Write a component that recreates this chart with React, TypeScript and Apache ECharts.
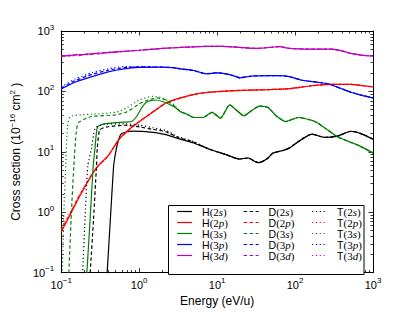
import React, { useEffect, useRef } from 'react';
import * as echarts from 'echarts';

type P = [number, number];

// ---- data (energy eV/u, cross section 1e-16 cm^2) ----
const H2s: P[] = [[0.37,0.04],[0.388,0.1],[0.427,0.77],[0.47,5.8],[0.5,10],[0.53,14],[0.58,19.5],[0.7,21.5],[0.85,22],[1.1,21.8],[1.5,21],[2.2,19.3],[3.1,16.7],[5,14],[8,11],[13,9],[19,7.6],[25,7.9],[30,7.0],[34,6.6],[39,7.0],[45,7.9],[52,9.5],[70,10.5],[84,11.5],[100,13.5],[130,17],[164,19.6],[240,17.3],[350,18.2],[520,21.9],[700,20],[1000,16.2]];
const D2sLow: P[] = [[0.225,0.04],[0.235,0.1],[0.26,0.8],[0.283,5.8],[0.29,11.5],[0.31,22.8],[0.35,25],[0.4,26],[0.64,27.5],[1.03,25.7],[1.5,23.5],[2.2,21.5],[3.1,17.5],[5,14.5]];
const T2sLow: P[] = [[0.18,0.04],[0.188,0.1],[0.2,0.6],[0.219,5.8],[0.245,11.5],[0.27,24],[0.32,28],[0.36,29],[0.64,29],[1.03,27.5],[1.5,25],[2.2,22.5],[3.1,18],[5,14.7]];

const H2p: P[] = [[0.1,0.473],[0.137,1.03],[0.168,1.73],[0.243,4.04],[0.297,5.85],[0.396,8.47],[0.56,16.5],[0.81,25.7],[1.15,35.8],[1.66,50],[2.22,64.7],[3.41,78],[5.25,90],[8.07,97],[16.6,103],[45,107],[84,111],[164,124],[290,131],[520,131],[750,124],[1000,119]];
const D2pLow: P[] = [[0.1,0.5],[0.137,1.08],[0.168,1.8]];
const T2pLow: P[] = [[0.1,0.53],[0.137,1.12],[0.168,1.85]];

const H3s: P[] = [[0.2,0.04],[0.213,0.1],[0.235,0.8],[0.257,5.8],[0.271,11.5],[0.292,25.7],[0.36,29],[0.5,30.5],[0.64,31],[0.81,32],[0.94,39.5],[1.08,54],[1.25,67],[1.6,72],[2.0,68],[2.8,56],[3.4,46],[4.1,42],[5,37],[6.6,37],[8.6,45],[11,36],[14.5,60],[18,48],[22,39.5],[27,47],[35,57],[45,54],[57,39.5],[76,31.7],[110,37],[180,31.7],[250,24],[350,17.7],[630,13],[1000,9.6]];
const D3sLow: P[] = [[0.118,0.04],[0.125,0.1],[0.135,1],[0.145,5.8],[0.155,20],[0.165,30],[0.2,35],[0.25,38.5],[0.5,41],[0.7,46],[1.0,62],[1.3,72],[1.7,78],[2.2,72],[2.8,58]];
const T3sLow: P[] = [[0.098,0.04],[0.103,0.1],[0.108,1],[0.114,6],[0.12,25],[0.13,38],[0.18,41],[0.25,42],[0.5,45],[0.7,54],[1.0,72],[1.5,83],[2.0,78],[2.8,60]];

const H3p: P[] = [[0.1,110],[0.15,142],[0.25,176],[0.4,210],[0.64,236],[1.0,250],[1.9,252],[2.7,248],[3.4,236],[5,222],[7.2,196],[10.2,203],[13,195],[16.6,180],[19.5,168],[24,175],[29,180],[47,183],[65,182],[84,176],[123,153],[190,142],[267,133],[380,113],[520,97],[700,87],[1000,78]];
const D3pLow: P[] = [[0.1,113],[0.15,150],[0.25,192],[0.4,224],[0.64,248],[1.0,255]];
const T3pLow: P[] = [[0.1,118],[0.15,160],[0.25,205],[0.4,236],[0.64,258],[1.0,258]];

const H3d: P[] = [[0.1,385],[0.2,410],[0.4,440],[1,480],[2,515],[4,540],[7,556],[12,555],[18,540],[32,515],[50,538],[63,553],[84,515],[164,500],[290,502],[400,470],[520,425],[700,400],[1000,386]];
const D3dLow: P[] = [[0.1,378],[0.115,395],[0.13,385],[0.15,405],[0.17,392],[0.2,415],[0.23,402],[0.27,428],[0.31,415],[0.36,440],[0.45,445],[0.7,462]];
const T3dLow: P[] = [[0.1,392],[0.11,380],[0.125,402],[0.14,388],[0.16,412],[0.185,398],[0.21,422],[0.25,408],[0.29,432],[0.33,420],[0.4,445],[0.7,465]];

const join = (low: P[], full: P[], from: number): P[] => [...low, ...full.filter((p) => p[0] >= from)];

const states = ['2s', '2p', '3s', '3p', '3d'];
const colors = ['#000000', '#ff0000', '#008000', '#0000ff', '#bf00bf'];
const isotopes = ['H', 'D', 'T'];
const dashes: any[] = ['solid', [3.5, 2.5], [1.2, 2.6]];

const seriesData: Record<string, P[]> = {
  'H(2s)': H2s, 'D(2s)': join(D2sLow, H2s, 8), 'T(2s)': join(T2sLow, H2s, 8),
  'H(2p)': H2p, 'D(2p)': join(D2pLow, H2p, 0.243), 'T(2p)': join(T2pLow, H2p, 0.243),
  'H(3s)': H3s, 'D(3s)': join(D3sLow, H3s, 3.4), 'T(3s)': join(T3sLow, H3s, 3.4),
  'H(3p)': H3p, 'D(3p)': join(D3pLow, H3p, 1.9), 'T(3p)': join(T3pLow, H3p, 1.9),
  'H(3d)': H3d, 'D(3d)': join(D3dLow, H3d, 1), 'T(3d)': join(T3dLow, H3d, 1),
};

const axisMin = 0.1;
const axisMax = 1000;
const minorTicks: number[] = [];
for (const dec of [0.1, 1, 10, 100]) for (let k = 2; k <= 9; k++) minorTicks.push(+(dec * k).toPrecision(3));

const SANS = 'Liberation Sans';
const SERIF = 'Liberation Serif';

const expLabel = (v: number) => {
  const e = Math.round(Math.log10(v));
  return `{b|10}{s|${e < 0 ? '\u2212' + -e : e}}`;
};

const tickRich = {
  b: { fontFamily: SANS, fontSize: 11, color: '#000', lineHeight: 16 },
  s: { fontFamily: SANS, fontSize: 8, color: '#000', verticalAlign: 'top' as const, lineHeight: 10 },
};

function makeAxes(kind: 'x' | 'y') {
  const positions = kind === 'x' ? ['bottom', 'top'] : ['left', 'right'];
  const axes: any[] = [];
  positions.forEach((pos, i) => {
    axes.push({
      type: 'log', logBase: 10, min: axisMin, max: axisMax, position: pos,
      axisLine: { show: true, onZero: false, lineStyle: { color: '#000', width: 1 } },
      axisTick: { show: true, inside: true, length: 4.5, lineStyle: { color: '#000', width: 0.8 } },
      axisLabel: i === 0 ? { show: true, color: '#000', formatter: expLabel, rich: tickRich, margin: kind === 'x' ? 4 : 7, showMinLabel: true, showMaxLabel: true } : { show: false },
      splitLine: { show: false },
      minorTick: { show: false },
      ...(i === 0 && kind === 'x' ? { name: 'Energy (eV/u)', nameLocation: 'middle', nameGap: 20, nameTextStyle: { fontFamily: SANS, fontSize: 12, color: '#000' } } : {}),
      ...(i === 0 && kind === 'y' ? {
        name: '{b|Cross section (10}{s|\u221216}{b| cm}{s|2}{b| )}', nameLocation: 'middle', nameGap: 28, nameRotate: 90,
        nameTextStyle: { color: '#000', rich: { b: { fontFamily: SANS, fontSize: 12, color: '#000', lineHeight: 16 }, s: { fontFamily: SANS, fontSize: 8, color: '#000', verticalAlign: 'top', lineHeight: 10 } } },
      } : {}),
    });
    axes.push({
      type: 'log', logBase: 10, min: axisMin, max: axisMax, position: pos,
      axisLine: { show: false, onZero: false },
      axisTick: { show: true, inside: true, length: 2.5, customValues: minorTicks, lineStyle: { color: '#000', width: 0.8 } },
      axisLabel: { show: false },
      splitLine: { show: false },
    });
  });
  return axes;
}

const legendRich = {
  a: { fontFamily: SANS, fontSize: 10.5, color: '#000', lineHeight: 13 },
  b: { fontFamily: SERIF, fontSize: 11, color: '#000', lineHeight: 13 },
  c: { fontFamily: SERIF, fontSize: 11, fontStyle: 'italic' as const, color: '#000', lineHeight: 13 },
};

export default function App() {
  const ref = useRef<HTMLDivElement>(null);
  useEffect(() => {
    if (!ref.current) return;
    const chart = echarts.init(ref.current, undefined, { renderer: 'svg' });
    const series: any[] = [];
    isotopes.forEach((iso, ii) => {
      states.forEach((st, si) => {
        const name = `${iso}(${st})`;
        series.push({
          name, type: 'line', data: seriesData[name], xAxisIndex: 0, yAxisIndex: 0,
          showSymbol: false, symbol: 'none', smooth: 0.2, clip: true,
          lineStyle: { color: colors[si], width: 1.2, type: dashes[ii] },
          itemStyle: { color: colors[si] },
          z: 2,
        });
      });
    });
    const legendCols = [176.5, 243, 311.5];
    const legends = isotopes.map((iso, ii) => ({
      show: true, orient: 'vertical', left: legendCols[ii], top: 206, padding: 0,
      itemWidth: 15, itemHeight: 13, itemGap: 0,
      data: states.map((st) => `${iso}(${st})`),
      selectedMode: false,
      itemStyle: { opacity: 0 },
      lineStyle: { width: 1.2 },
      formatter: (n: string) => `{a|${n[0]}}{b|(${n[2]}}{c|${n[3]}}{b|)}`,
      textStyle: { color: '#000', rich: legendRich, padding: [0, 0, 0, 5] },
      z: 10,
    }));
    chart.setOption({
      animation: false,
      backgroundColor: '#fff',
      grid: { left: 52, right: 42, top: 31, bottom: 32, containLabel: false },
      xAxis: makeAxes('x'),
      yAxis: makeAxes('y'),
      legend: legends,
      graphic: [{
        type: 'rect', z: 8, shape: { x: 168.5, y: 205.5, width: 195.5, height: 69 },
        style: { fill: '#fff', stroke: '#000', lineWidth: 1 },
      }],
      series,
    });
    return () => chart.dispose();
  }, []);
  return <div ref={ref} style={{ position: 'absolute', left: 0, top: 0, width: 415, height: 312 }} />;
}
